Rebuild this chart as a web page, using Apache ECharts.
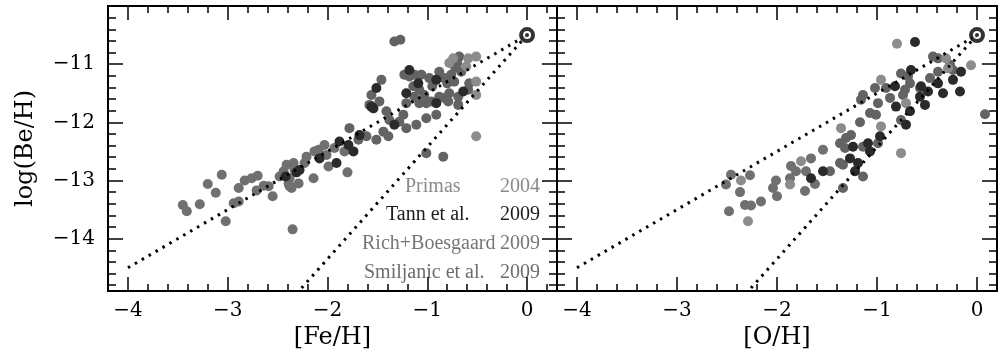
<!DOCTYPE html>
<html>
<head>
<meta charset="utf-8">
<script src="https://cdn.jsdelivr.net/npm/echarts@6/dist/echarts.min.js"></script>
<style>
html, body { margin: 0; padding: 0; background: #fff; }
#c { width: 1006px; height: 361px; }
</style>
</head>
<body>
<div id="c"></div>
<script>
var xTicks = [-4, -3, -2, -1, 0];
var yTicks = [-14, -13, -12, -11];
var sun = [[0, -10.5]];
var lineSlope1 = [[-4, -14.5], [0, -10.5]];
var lineSlope2 = [[-2.26, -14.85], [0, -10.5]];

// log(Be/H) vs [Fe/H]
var feRich = [[-3.06,-12.90],[-3.20,-13.06],[-3.12,-13.21],[-3.45,-13.42],[-3.41,-13.53],[-3.28,-13.41],[-3.02,-13.70],
  [-2.89,-13.13],[-2.94,-13.39],[-2.89,-13.36],[-2.83,-13.00],[-2.76,-12.96],[-2.70,-12.92],[-2.71,-13.17],[-2.64,-13.09],
  [-2.59,-13.10],[-2.55,-13.27],[-2.41,-12.73],[-2.34,-12.70],[-2.44,-12.84],[-2.39,-13.05],[-2.36,-13.13],[-2.35,-13.84],
  [-2.48,-12.93],[-2.38,-12.96],[-2.38,-13.10],[-2.33,-12.82],[-2.29,-13.05],[-2.23,-12.70],[-2.21,-12.59],[-2.14,-12.96],
  [-2.09,-12.47],[-2.03,-12.39],[-2.01,-12.56],[-1.99,-12.76],[-1.93,-12.44],[-1.83,-12.50],[-1.80,-12.86],[-2.13,-12.50]];
var feSmiljanic = [[-1.78,-12.10],[-1.69,-12.30],[-1.61,-12.24],[-1.33,-10.61],[-1.27,-10.58],[-0.68,-10.87],[-0.70,-10.98],
  [-0.66,-11.13],[-0.76,-11.18],[-0.88,-11.13],[-0.83,-11.24],[-0.98,-11.24],[-1.06,-11.18],[-1.14,-11.38],[-1.23,-11.18],
  [-1.13,-11.18],[-0.58,-11.33],[-0.69,-11.56],[-0.78,-11.50],[-0.83,-11.58],[-0.96,-11.64],[-1.01,-11.67],[-1.03,-11.53],
  [-1.08,-11.44],[-0.59,-11.44],[-0.69,-11.70],[-0.79,-11.64],[-0.88,-11.56],[-1.13,-11.56],[-1.08,-11.67],[-1.21,-11.67],
  [-1.24,-11.87],[-1.28,-11.99],[-1.38,-11.96],[-1.41,-11.81],[-1.48,-11.64],[-1.46,-11.27],[-1.56,-11.53],[-1.44,-12.16],
  [-1.39,-12.24],[-1.11,-12.04],[-1.01,-11.93],[-0.91,-11.87],[-1.21,-12.10],[-1.51,-12.30],[-1.58,-11.70],[-0.84,-12.59],
  [-1.01,-12.53],[-1.18,-11.21],[-0.72,-11.06],[-0.80,-11.33],[-0.95,-11.38],[-0.73,-11.30]];
var fePrimas = [[-0.78,-10.98],[-0.74,-10.90],[-0.59,-10.90],[-0.51,-10.87],[-0.51,-11.30],[-0.51,-11.53],[-0.51,-12.24],[-0.61,-11.04]];
var feTann = [[-2.42,-12.93],[-2.31,-12.86],[-2.28,-12.82],[-2.08,-12.62],[-1.91,-12.70],[-1.88,-12.33],[-1.79,-12.39],
  [-1.74,-12.50],[-1.68,-12.22],[-1.56,-11.73],[-1.51,-11.41],[-1.54,-11.76],[-1.33,-12.04],[-1.18,-11.10],[-1.09,-11.33],
  [-0.91,-11.27],[-0.91,-11.67],[-0.64,-11.47],[-1.21,-11.50]];

// log(Be/H) vs [O/H]
var oRich = [[-1.54,-12.47],[-1.66,-12.62],[-1.71,-12.84],[-1.62,-13.06],[-1.72,-13.18],[-2.46,-12.90],[-2.27,-12.91],
  [-2.51,-13.07],[-2.37,-13.20],[-2.32,-13.42],[-2.26,-13.43],[-2.16,-13.36],[-2.48,-13.53],[-2.01,-13.00],[-2.04,-13.13],
  [-2.00,-13.27],[-1.86,-12.75],[-1.87,-12.96],[-1.81,-12.84]];
var oSmiljanic = [[0.08,-11.86],[-0.44,-10.87],[-0.39,-10.90],[-0.27,-11.01],[-0.24,-11.10],[-0.39,-11.13],[-0.47,-11.24],
  [-0.57,-11.41],[-0.76,-11.16],[-0.69,-11.21],[-0.67,-11.33],[-0.72,-11.44],[-0.74,-11.53],[-0.91,-11.41],[-1.02,-11.41],
  [-0.87,-11.58],[-0.76,-11.96],[-0.99,-11.67],[-1.07,-11.84],[-1.01,-11.87],[-1.14,-11.53],[-1.16,-11.61],[-1.17,-12.00],
  [-0.99,-12.36],[-1.14,-12.42],[-1.26,-12.22],[-1.31,-12.27],[-1.37,-12.36],[-1.32,-12.44],[-1.37,-12.70],[-1.34,-12.73],
  [-1.47,-12.84],[-1.14,-12.93],[-1.34,-13.13]];
var oPrimas = [[-0.80,-10.65],[-0.06,-11.02],[-0.31,-10.90],[-0.29,-11.07],[-0.96,-11.27],[-0.71,-11.67],[-0.96,-12.07],
  [-1.36,-12.10],[-0.76,-12.53],[-1.76,-12.67],[-2.36,-13.00],[-2.29,-13.70],[-1.87,-13.07]];
var oTann = [[-0.62,-10.62],[-0.16,-11.13],[-0.24,-11.27],[-0.17,-11.47],[-0.34,-11.50],[-0.39,-11.33],[-0.56,-11.38],
  [-0.49,-11.47],[-0.57,-11.56],[-0.52,-11.70],[-0.66,-11.10],[-0.82,-11.38],[-0.81,-11.73],[-0.67,-11.81],[-0.71,-12.04],
  [-0.97,-12.24],[-1.09,-12.36],[-1.07,-12.50],[-1.24,-12.42],[-1.27,-12.62],[-1.19,-12.70],[-1.54,-12.84],[-1.22,-12.84],
  [-1.66,-12.96]];

var legendNames = ['Primas', 'Tann et al.', 'Rich+Boesgaard', 'Smiljanic et al.'];
var legendYears = ['2004', '2009', '2009', '2009'];

var colors = { primas: '#8c8c8c', tann: '#2a2a2a', rich: '#707070', smil: '#636363' };
var textColors = ['#8a8a8a', '#1c1c1c', '#767676', '#6c6c6c'];
var serif = '"DejaVu Serif", serif';

function minus(v) { return v < 0 ? '\u2212' + (-v) : String(v); }

function steps(lo, hi) {
  var a = [];
  for (var i = Math.ceil(lo * 5 - 1e-6); i <= Math.floor(hi * 5 + 1e-6); i++) a.push(i / 5);
  return a;
}

function axis(grid, pos, min, max, vals, len, labels, name) {
  var a = {
    type: 'value', gridIndex: grid, position: pos, min: min, max: max,
    axisLine: { show: true, onZero: false, lineStyle: { color: '#000', width: 2 } },
    axisTick: { show: true, inside: true, length: len, customValues: vals,
                lineStyle: { color: '#000', width: 1.5 } },
    axisLabel: { show: false },
    splitLine: { show: false }
  };
  if (labels) {
    a.axisLabel = { show: true, customValues: vals, margin: pos == 'left' ? 13 : 10,
                    fontFamily: serif, fontSize: 20, color: '#000', formatter: minus };
  }
  if (name) {
    a.name = name;
    a.nameLocation = 'middle';
    a.nameTextStyle = { fontFamily: serif, fontSize: 24, color: '#000' };
    a.nameGap = pos == 'left' ? 70 : 32;
  }
  return a;
}

var xr = [[-4.2, 0.3], [-4.2, 0.2]];
var yr = [-14.9, -10.0];
var xAxes = [], yAxes = [];
[0, 1].forEach(function (g) {
  var xm = steps(xr[g][0], xr[g][1]), ym = steps(yr[0], yr[1]);
  xAxes.push(axis(g, 'bottom', xr[g][0], xr[g][1], xTicks, 14, true, g == 0 ? '[Fe/H]' : '[O/H]'));
  xAxes.push(axis(g, 'bottom', xr[g][0], xr[g][1], xm, 7));
  xAxes.push(axis(g, 'top', xr[g][0], xr[g][1], xTicks, 14));
  xAxes.push(axis(g, 'top', xr[g][0], xr[g][1], xm, 7));
  yAxes.push(axis(g, 'left', yr[0], yr[1], yTicks, 15, g == 0, g == 0 ? 'log(Be/H)' : null));
  yAxes.push(axis(g, 'left', yr[0], yr[1], ym, 8));
  yAxes.push(axis(g, 'right', yr[0], yr[1], yTicks, 15));
  yAxes.push(axis(g, 'right', yr[0], yr[1], ym, 8));
});

function pts(data, color, g) {
  return { type: 'scatter', xAxisIndex: g * 4, yAxisIndex: g * 4, data: data,
           symbol: 'circle', symbolSize: 10, itemStyle: { color: color, opacity: 1 }, silent: true, z: 2 };
}
function dots(data, g) {
  return { type: 'line', xAxisIndex: g * 4, yAxisIndex: g * 4, data: data, symbol: 'none', silent: true, z: 3,
           lineStyle: { color: '#000', width: 3, type: [2.5, 5.5] } };
}

var series = [];
[[feRich, feSmiljanic, fePrimas, feTann], [oRich, oSmiljanic, oPrimas, oTann]].forEach(function (set, g) {
  series.push(pts(set[0], colors.rich, g));
  series.push(pts(set[1], colors.smil, g));
  series.push(pts(set[2], colors.primas, g));
  series.push(pts(set[3], colors.tann, g));
  series.push(dots(lineSlope1, g));
  series.push(dots(lineSlope2, g));
  series.push({ type: 'scatter', xAxisIndex: g * 4, yAxisIndex: g * 4, data: sun, symbol: 'circle', symbolSize: 12,
                itemStyle: { color: '#fff', borderColor: '#000', borderWidth: 4 }, silent: true, z: 4 });
  series.push({ type: 'scatter', xAxisIndex: g * 4, yAxisIndex: g * 4, data: sun, symbol: 'circle', symbolSize: 4,
                itemStyle: { color: '#000' }, silent: true, z: 5 });
});

var nameLeft = [405, 386, 362, 364];
var rowY = [187, 215, 244, 273];
var graphic = [];
legendNames.forEach(function (n, i) {
  graphic.push({ type: 'text', x: nameLeft[i], y: rowY[i], silent: true,
                 style: { text: n, fill: textColors[i], font: '20px "Liberation Serif"', align: 'left', verticalAlign: 'middle' } });
  graphic.push({ type: 'text', x: 540, y: rowY[i], silent: true,
                 style: { text: legendYears[i], fill: textColors[i], font: '20px "Liberation Serif"', align: 'right', verticalAlign: 'middle' } });
});

var chart = echarts.init(document.getElementById('c'));
chart.setOption({
  animation: false,
  backgroundColor: '#fff',
  grid: [
    { left: 108, top: 6, width: 449, height: 285, outerBoundsMode: 'none' },
    { left: 557, top: 6, width: 440, height: 285, outerBoundsMode: 'none' }
  ],
  xAxis: xAxes,
  yAxis: yAxes,
  series: series,
  graphic: graphic
});
</script>
</body>
</html>
